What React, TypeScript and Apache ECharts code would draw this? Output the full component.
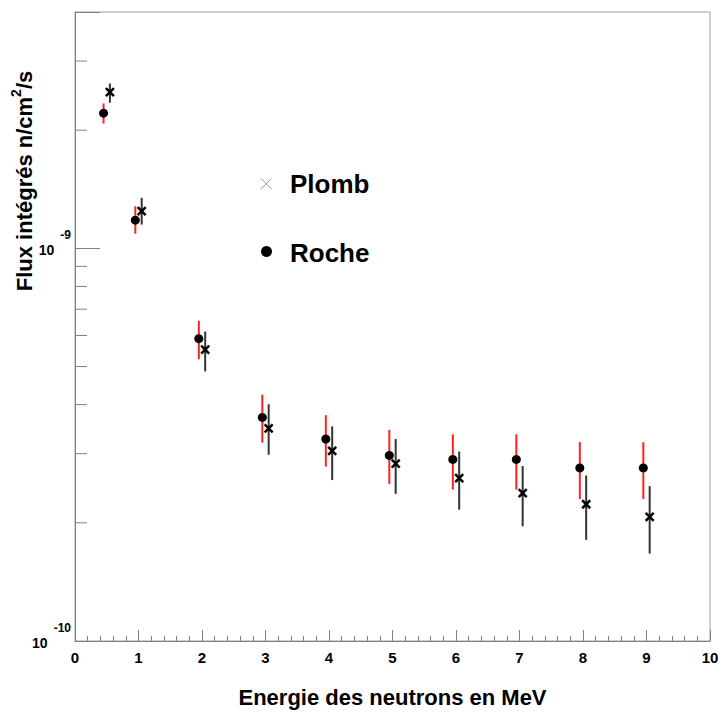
import React, { useEffect, useRef } from 'react';
import * as echarts from 'echarts';

// Roche (filled circles, red error bars)
const rocheEnergy = [0.45, 0.95, 1.95, 2.95, 3.95, 4.95, 5.95, 6.95, 7.95, 8.95];
const rocheFlux = [2.21e-9, 1.18e-9, 5.89e-10, 3.71e-10, 3.27e-10, 2.97e-10, 2.9e-10, 2.9e-10, 2.76e-10, 2.76e-10];
const rocheLow = [2.08e-9, 1.09e-9, 5.22e-10, 3.2e-10, 2.78e-10, 2.51e-10, 2.43e-10, 2.43e-10, 2.3e-10, 2.3e-10];
const rocheHigh = [2.34e-9, 1.28e-9, 6.54e-10, 4.24e-10, 3.76e-10, 3.45e-10, 3.36e-10, 3.36e-10, 3.21e-10, 3.21e-10];

// Plomb (crosses, black error bars)
const plombEnergy = [0.55, 1.05, 2.05, 3.05, 4.05, 5.05, 6.05, 7.05, 8.05, 9.05];
const plombFlux = [2.5e-9, 1.245e-9, 5.52e-10, 3.48e-10, 3.05e-10, 2.83e-10, 2.6e-10, 2.38e-10, 2.23e-10, 2.07e-10];
const plombLow = [2.35e-9, 1.15e-9, 4.86e-10, 2.98e-10, 2.57e-10, 2.37e-10, 2.16e-10, 1.96e-10, 1.81e-10, 1.67e-10];
const plombHigh = [2.63e-9, 1.345e-9, 6.14e-10, 4.01e-10, 3.52e-10, 3.27e-10, 3.04e-10, 2.79e-10, 2.64e-10, 2.48e-10];

// Axis ranges / ticks
const xMin = 0;
const xMax = 10;
const yMin = 1e-10;
const yMax = 4e-9;
const yMinorTicks = [2e-10, 3e-10, 4e-10, 5e-10, 6e-10, 7e-10, 8e-10, 9e-10, 2e-9, 3e-9];

const seriesNames = ['Plomb', 'Roche'];
const xTitle = 'Energie des neutrons en MeV';
const yTitleMain = 'Flux intégrés n/cm';
const yTitleSup = '2';
const yTitleEnd = '/s';

const FONT = '"Liberation Sans", Arial, Helvetica, sans-serif';

export default function App() {
  const ref = useRef<HTMLDivElement>(null);

  useEffect(() => {
    if (!ref.current) return;
    const chart = echarts.init(ref.current, null, { renderer: 'svg' });

    const rocheData = rocheEnergy.map((e, i) => [e, rocheFlux[i], rocheLow[i], rocheHigh[i]]);
    const plombData = plombEnergy.map((e, i) => [e, plombFlux[i], plombLow[i], plombHigh[i]]);

    const option: any = {
      animation: false,
      backgroundColor: '#fff',
      grid: {
        left: 75,
        right: 12,
        top: 12,
        bottom: 66,
        show: true,
        borderColor: '#a0a0a0',
        borderWidth: 1,
        backgroundColor: 'transparent',
      },
      xAxis: {
        type: 'value',
        min: xMin,
        max: xMax,
        interval: 1,
        name: xTitle,
        nameLocation: 'middle',
        nameGap: 45,
        nameTextStyle: {
          fontFamily: FONT,
          fontWeight: 'bold',
          fontSize: 22,
          color: '#000',
        },
        axisLine: { show: true, lineStyle: { color: '#808080', width: 1 } },
        axisTick: { show: true, inside: true, length: 11, lineStyle: { color: '#808080', width: 1 } },
        minorTick: { show: true, splitNumber: 5, length: 5, lineStyle: { color: '#808080', width: 1 } },
        splitLine: { show: false },
        minorSplitLine: { show: false },
        axisLabel: {
          margin: 9,
          fontFamily: FONT,
          fontWeight: 'bold',
          fontSize: 15,
          color: '#000',
        },
      },
      yAxis: {
        type: 'log',
        logBase: 10,
        min: yMin,
        max: yMax,
        axisLine: { show: true, lineStyle: { color: '#808080', width: 1 } },
        axisTick: { show: true, inside: true, length: 25, lineStyle: { color: '#808080', width: 1 } },
        splitLine: { show: false },
        axisLabel: {
          margin: 4,
          color: '#000',
          formatter: (v: number) => {
            const l = Math.log10(v);
            const e = Math.round(l);
            if (Math.abs(l - e) > 1e-6) return '';
            return `{b|10}{s|${e}}`;
          },
          rich: {
            b: { fontFamily: FONT, fontWeight: 'bold', fontSize: 14, color: '#000', padding: [4, 0, 0, 0] },
            s: {
              fontFamily: FONT,
              fontWeight: 'bold',
              fontSize: 12,
              color: '#000',
              padding: [0, 0, 26, 6],
            },
          },
        },
      },
      graphic: [
        {
          type: 'text',
          x: 24,
          y: 181,
          rotation: Math.PI / 2,
          style: {
            text: `{a|${yTitleMain}}{s|${yTitleSup}}{a|${yTitleEnd}}`,
            align: 'center',
            verticalAlign: 'middle',
            fontFamily: FONT,
            fontWeight: 'bold',
            fontSize: 22,
            fill: '#000',
            rich: {
              a: { fontFamily: FONT, fontWeight: 'bold', fontSize: 22, color: '#000' },
              s: { fontFamily: FONT, fontWeight: 'bold', fontSize: 14, color: '#000', padding: [0, 0, 16, 0] },
            },
          },
        },
        // Legend
        {
          type: 'group',
          children: [
            { type: 'line', shape: { x1: 261, y1: 178.5, x2: 271.5, y2: 189 }, style: { stroke: '#999', lineWidth: 1 } },
            { type: 'line', shape: { x1: 271.5, y1: 178.5, x2: 261, y2: 189 }, style: { stroke: '#999', lineWidth: 1 } },
            {
              type: 'text',
              x: 290,
              y: 184,
              style: {
                text: seriesNames[0],
                fontFamily: FONT,
                fontWeight: 'bold',
                fontSize: 26,
                fill: '#000',
                verticalAlign: 'middle',
              },
            },
            { type: 'circle', shape: { cx: 266.5, cy: 251.5, r: 5.5 }, style: { fill: '#000' } },
            {
              type: 'text',
              x: 290,
              y: 253,
              style: {
                text: seriesNames[1],
                fontFamily: FONT,
                fontWeight: 'bold',
                fontSize: 26,
                fill: '#000',
                verticalAlign: 'middle',
              },
            },
          ],
        },
      ],
      series: [
        {
          name: 'yMinorTicks',
          type: 'custom',
          silent: true,
          data: yMinorTicks.map((v) => [xMin, v]),
          encode: { x: 0, y: 1 },
          renderItem: (params: any, api: any) => {
            const p = api.coord([api.value(0), api.value(1)]);
            return {
              type: 'line',
              shape: { x1: p[0], y1: p[1], x2: p[0] + 12, y2: p[1] },
              style: { stroke: '#808080', lineWidth: 1 },
            };
          },
        },
        {
          name: seriesNames[1],
          type: 'custom',
          data: rocheData,
          encode: { x: 0, y: 1 },
          renderItem: (params: any, api: any) => {
            const x = api.value(0);
            const c = api.coord([x, api.value(1)]);
            const lo = api.coord([x, api.value(2)]);
            const hi = api.coord([x, api.value(3)]);
            return {
              type: 'group',
              children: [
                {
                  type: 'line',
                  shape: { x1: lo[0], y1: lo[1], x2: hi[0], y2: hi[1] },
                  style: { stroke: '#ff2020', lineWidth: 2 },
                },
                { type: 'circle', shape: { cx: c[0], cy: c[1], r: 4.5 }, style: { fill: '#000' } },
              ],
            };
          },
        },
        {
          name: seriesNames[0],
          type: 'custom',
          data: plombData,
          encode: { x: 0, y: 1 },
          renderItem: (params: any, api: any) => {
            const x = api.value(0);
            const c = api.coord([x, api.value(1)]);
            const lo = api.coord([x, api.value(2)]);
            const hi = api.coord([x, api.value(3)]);
            const s = 4;
            return {
              type: 'group',
              children: [
                {
                  type: 'line',
                  shape: { x1: lo[0], y1: lo[1], x2: hi[0], y2: hi[1] },
                  style: { stroke: '#333', lineWidth: 2 },
                },
                {
                  type: 'line',
                  shape: { x1: c[0] - s, y1: c[1] - s, x2: c[0] + s, y2: c[1] + s },
                  style: { stroke: '#000', lineWidth: 2.5 },
                },
                {
                  type: 'line',
                  shape: { x1: c[0] + s, y1: c[1] - s, x2: c[0] - s, y2: c[1] + s },
                  style: { stroke: '#000', lineWidth: 2.5 },
                },
              ],
            };
          },
        },
      ],
    };

    chart.setOption(option);
    return () => {
      chart.dispose();
    };
  }, []);

  return (
    <div
      ref={ref}
      style={{ position: 'absolute', left: 0, top: 0, width: 722, height: 713, background: '#fff' }}
    />
  );
}
